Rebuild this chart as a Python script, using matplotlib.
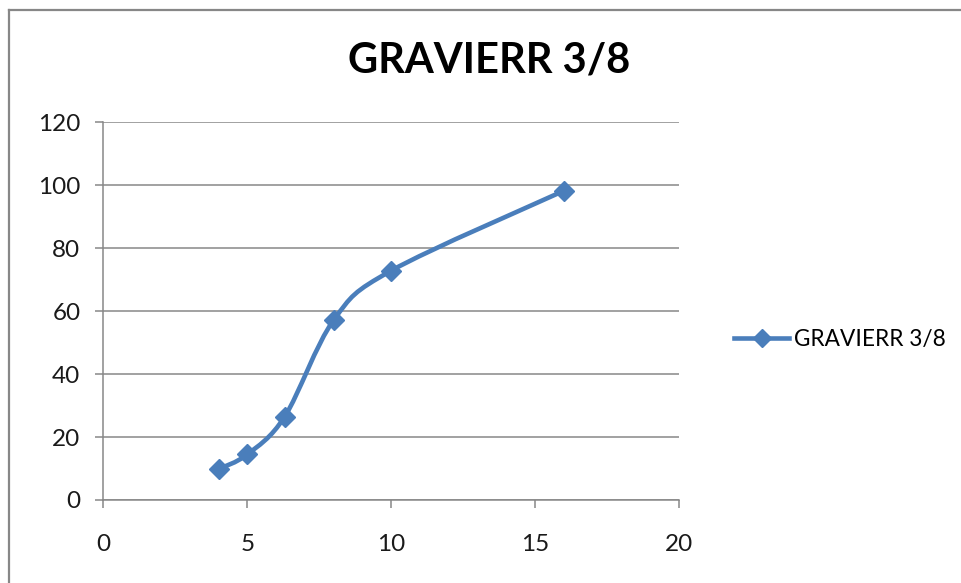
import numpy as np
import matplotlib.pyplot as plt
from matplotlib.path import Path
from matplotlib.patches import PathPatch
from matplotlib.lines import Line2D

# sieve opening vs. passing percentage
sizes = [4, 5, 6.3, 8, 10, 16]
passing = [9.8, 14.5, 26.5, 57.2, 72.9, 98.3]
series_name = 'GRAVIERR 3/8'
x_ticks = [0, 5, 10, 15, 20]
y_ticks = [0, 20, 40, 60, 80, 100, 120]

blue = '#4A7EBB'
grey = '#878787'
font = ['Lato', 'DejaVu Sans']


def smooth_path(xs, ys):
    # Catmull-Rom style bezier through every point (like a "smoothed line")
    pts = np.column_stack([xs, ys]).astype(float)
    n = len(pts)
    verts = [pts[0]]
    codes = [Path.MOVETO]
    for i in range(n - 1):
        p0 = pts[i - 1] if i > 0 else pts[i]
        p1 = pts[i]
        p2 = pts[i + 1]
        p3 = pts[i + 2] if i + 2 < n else pts[i + 1]
        c1 = p1 + (p2 - p0) / 6
        c2 = p2 - (p3 - p1) / 6
        verts += [c1, c2, p2]
        codes += [Path.CURVE4] * 3
    return Path(verts, codes)


fig = plt.figure(figsize=(9.62, 5.83), dpi=100)
ax = fig.add_axes([0.1074, 0.1424, 0.5987, 0.6476])

ax.add_patch(PathPatch(smooth_path(sizes, passing), facecolor='none',
                       edgecolor=blue, lw=3.3, capstyle='round', zorder=3))
ax.plot(sizes, passing, linestyle='none', marker='D', markersize=10,
        color=blue, zorder=4)

ax.set_xlim(0, 20)
ax.set_ylim(0, 120)
ax.set_xticks(x_ticks)
ax.set_yticks(y_ticks)
ax.grid(axis='y', color=grey, lw=1.1)
ax.grid(axis='x', visible=False)
ax.set_axisbelow(True)
for side in ['top', 'right']:
    ax.spines[side].set_visible(False)
for side in ['left', 'bottom']:
    ax.spines[side].set_color(grey)
    ax.spines[side].set_linewidth(1.1)
ax.tick_params(length=5.5, width=1.1, color=grey, labelsize=17.5,
               labelcolor='#1a1a1a')
ax.tick_params(axis='x', pad=19)
ax.tick_params(axis='y', pad=11)
for lbl in ax.get_xticklabels() + ax.get_yticklabels():
    lbl.set_family(font)

fig.text(0.508, 0.896, series_name, ha='center', va='center',
         fontsize=30, fontweight='bold', family=font)

handle = Line2D([], [], color=blue, lw=3.3, marker='D', markersize=9)
fig.legend([handle], [series_name], loc='center left',
           bbox_to_anchor=(0.742, 0.418), frameon=False,
           handlelength=2.43, handletextpad=0.2,
           prop={'family': font, 'size': 16.3})

# chart area border, only top and left edges are visible
fig.add_artist(Line2D([0.0094, 0.0094], [0, 0.983], color=grey, lw=1.6))
fig.add_artist(Line2D([0.0094, 1], [0.983, 0.983], color=grey, lw=1.6))

fig.savefig('out.png', dpi=100)
